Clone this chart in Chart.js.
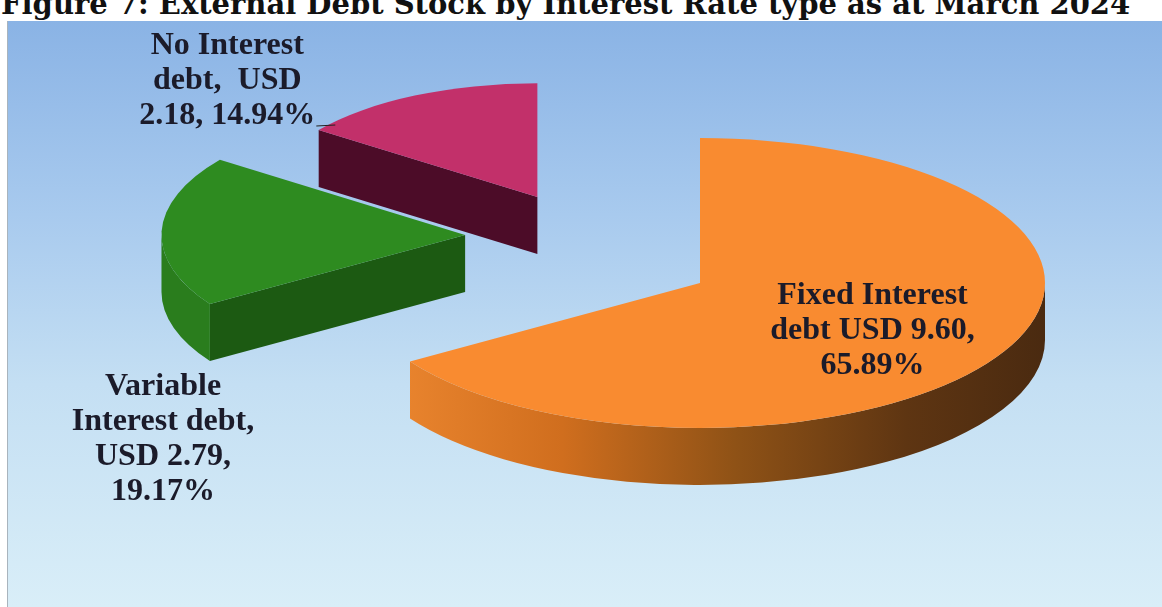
<!DOCTYPE html>
<html>
<head>
<meta charset="utf-8">
<script src="https://cdn.jsdelivr.net/npm/chart.js@4.4.1/dist/chart.umd.min.js"></script>
<style>
  html, body { margin: 0; padding: 0; background: #fff; }
  body { width: 1162px; height: 607px; position: relative; overflow: hidden; }
  #title {
    position: absolute; left: 1px; top: -13px; white-space: nowrap;
    font: bold 29px "DejaVu Serif", serif; color: #111;
  }
  #box {
    position: absolute; left: 7px; top: 21px; right: 0; bottom: 0;
    border-left: 1px solid #a9b4bd;
    background: linear-gradient(to bottom, #8ab3e5 0%, #a8caee 33%, #c4dff3 62%, #d9eef8 100%);
  }
  #chart { position: absolute; left: 0; top: 0; }
</style>
</head>
<body>
<div id="title">Figure 7: External Debt Stock by Interest Rate type as at March 2024</div>
<div id="box"></div>
<canvas id="chart" width="1162" height="607"></canvas>
<script>
// debt stock by interest rate type, USD bn, March 2024
const categories = ['Fixed Interest debt', 'Variable Interest debt', 'No Interest debt'];
const amounts = [9.60, 2.79, 2.18];
const shares = [65.89, 19.17, 14.94];

// label text as printed on the chart
const labelLines = [
  ['Fixed Interest', 'debt USD ' + amounts[0].toFixed(2) + ',', shares[0].toFixed(2) + '%'],
  ['Variable', 'Interest debt,', 'USD ' + amounts[1].toFixed(2) + ',', shares[1].toFixed(2) + '%'],
  ['No Interest', 'debt,  USD', amounts[2].toFixed(2) + ', ' + shares[2].toFixed(2) + '%'],
];

const topColors = ['#f98b30', '#2e8b20', '#c2306a'];
const cutColors = ['#6a3a12', '#1c5a12', '#4c0c28'];
const rimColors = [null, '#2a7d1d', '#7a1540'];

// draws the pie as tilted discs with thickness, using arc geometry from chart.js
const pie3d = {
  id: 'pie3d',
  beforeDatasetsDraw(chart, args, opts) {
    const ctx = chart.ctx;
    const meta = chart.getDatasetMeta(0);
    const { tilt, depth, squash, lift, persp } = opts;

    const slices = meta.data.map((arc, i) => {
      const p = arc.getProps(['x', 'y', 'startAngle', 'endAngle', 'outerRadius']);
      const off = arc.options.offset || 0;
      const mid = (p.startAngle + p.endAngle) / 2;
      const cy = p.y + Math.sin(mid) * off * squash - off * lift;
      const k = 1 - persp * (p.y - cy); // slices pushed back look smaller
      return {
        i,
        cx: p.x + Math.cos(mid) * off,
        cy,
        rx: p.outerRadius * k,
        ry: p.outerRadius * tilt * k,
        a0: p.startAngle,
        a1: p.endAngle,
      };
    });
    chart.$slices = slices.slice();

    slices.sort((a, b) => a.cy - b.cy);
    slices.forEach(s => {
      const { cx, cy, rx, ry, a0, a1, i } = s;
      const pt = a => [cx + rx * Math.cos(a), cy + ry * Math.sin(a)];

      // radial cut faces that face the viewer
      const cuts = [];
      if (Math.cos(a0) < -1e-9) cuts.push(a0);
      if (Math.cos(a1) > 1e-9) cuts.push(a1);
      cuts.forEach(a => {
        const [ex, ey] = pt(a);
        ctx.beginPath();
        ctx.moveTo(cx, cy);
        ctx.lineTo(ex, ey);
        ctx.lineTo(ex, ey + depth);
        ctx.lineTo(cx, cy + depth);
        ctx.closePath();
        ctx.fillStyle = cutColors[i];
        ctx.fill();
      });

      // outer rim, only the front half shows
      for (let k = -1; k <= 1; k++) {
        const b0 = Math.max(a0, k * 2 * Math.PI);
        const b1 = Math.min(a1, k * 2 * Math.PI + Math.PI);
        if (b1 <= b0) continue;
        ctx.beginPath();
        ctx.ellipse(cx, cy, rx, ry, 0, b0, b1, false);
        ctx.ellipse(cx, cy + depth, rx, ry, 0, b1, b0, true);
        ctx.closePath();
        if (rimColors[i]) {
          ctx.fillStyle = rimColors[i];
        } else {
          const g = ctx.createLinearGradient(cx - rx, 0, cx + rx, 0);
          g.addColorStop(0, '#f08a32');
          g.addColorStop(0.3, '#d06e1e');
          g.addColorStop(0.55, '#8f5216');
          g.addColorStop(0.8, '#5e3512');
          g.addColorStop(1, '#4a2a10');
          ctx.fillStyle = g;
        }
        ctx.fill();
      }

      // top face
      ctx.beginPath();
      ctx.moveTo(cx, cy);
      ctx.ellipse(cx, cy, rx, ry, 0, a0, a1, false);
      ctx.closePath();
      ctx.fillStyle = topColors[i];
      ctx.fill();
    });
    return false;
  },
  afterDraw(chart, args, opts) {
    const ctx = chart.ctx;
    const slices = chart.$slices;
    if (!slices) return;
    ctx.save();
    ctx.font = 'bold 32px "Liberation Serif", "Times New Roman", serif';
    ctx.fillStyle = '#1b1b2a';
    ctx.textAlign = 'center';
    ctx.textBaseline = 'middle';
    const lh = 35;
    opts.labels.forEach((pos, i) => {
      const s = slices[i];
      const lines = labelLines[i];
      const x = s.cx + pos.dx * s.rx;
      const y = s.cy + pos.dy * s.ry;
      const y0 = y - (lines.length - 1) * lh / 2;
      lines.forEach((t, j) => ctx.fillText(t, x, y0 + j * lh));
      if (pos.leader) {
        const last = lines[lines.length - 1];
        const w = ctx.measureText(last).width;
        const ly = y0 + (lines.length - 1) * lh + 10;
        ctx.beginPath();
        ctx.moveTo(x + w / 2 + 1, ly);
        ctx.lineTo(x + w / 2 + 20, ly - 1);
        ctx.strokeStyle = '#222';
        ctx.lineWidth = 1.2;
        ctx.stroke();
      }
    });
    ctx.restore();
  },
};

new Chart(document.getElementById('chart'), {
  type: 'pie',
  data: {
    labels: categories,
    datasets: [{
      data: amounts,
      backgroundColor: topColors,
      borderWidth: 0,
      offset: [0, 235, 359],
    }],
  },
  options: {
    responsive: false,
    animation: false,
    radius: 345,
    rotation: 0,
    layout: { padding: { left: 238, right: 0, top: 0, bottom: 41 } },
    plugins: {
      legend: { display: false },
      tooltip: { enabled: false },
      pie3d: {
        tilt: 0.42,
        depth: 57,
        squash: 0.041,
        lift: 0.203,
        persp: 0.0025,
        labels: [
          { dx: 0.5, dy: 0.33 },
          { dx: -0.995, dy: 1.6 },
          { dx: -1.145, dy: -1.02, leader: true },
        ],
      },
    },
  },
  plugins: [pie3d],
});
</script>
</body>
</html>
